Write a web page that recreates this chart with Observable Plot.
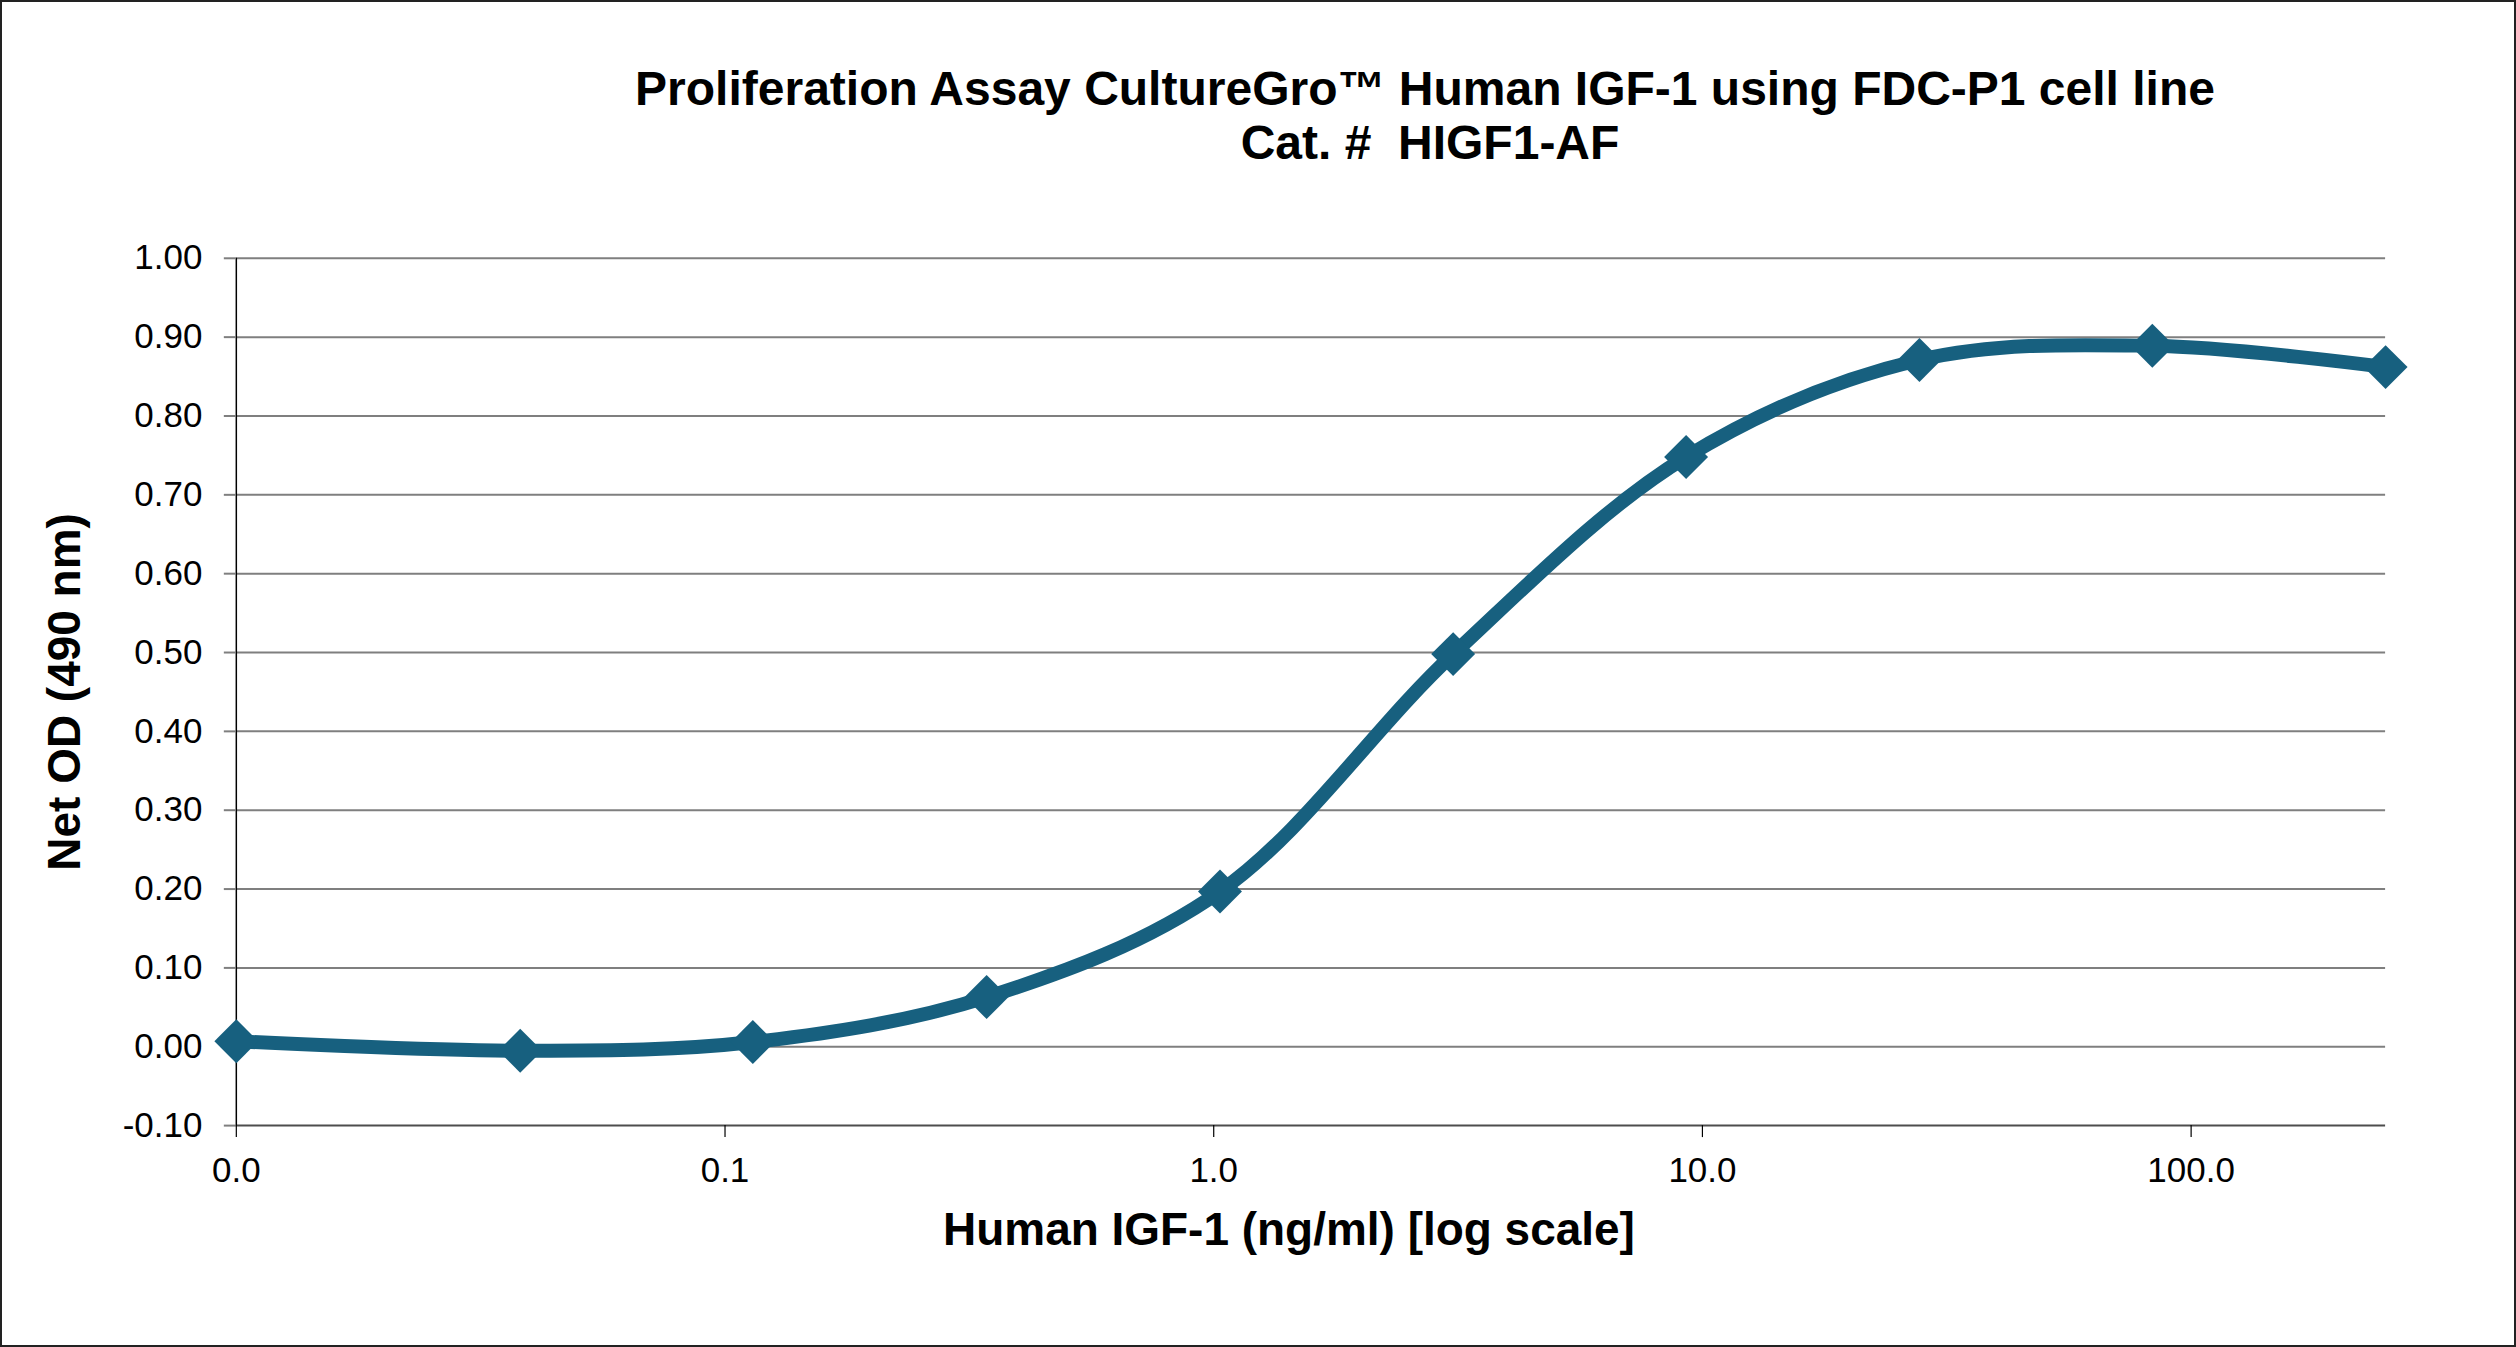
<!DOCTYPE html>
<html>
<head>
<meta charset="utf-8">
<script src="https://cdn.jsdelivr.net/npm/d3@7"></script>
<script src="https://cdn.jsdelivr.net/npm/@observablehq/plot@0.6"></script>
<style>
  html, body { margin: 0; padding: 0; background: #fff; }
  #wrap { position: relative; width: 2516px; height: 1347px; box-sizing: border-box; border: 2px solid #222; overflow: hidden; font-family: "Liberation Sans", Arial, sans-serif; }
  .ttl { position: absolute; white-space: pre; font-weight: bold; font-size: 48px; line-height: 48px; color: #000; transform: translateX(-50%); }
  #chart { position: absolute; left: -2px; top: -2px; }
</style>
</head>
<body>
<div id="wrap">
  <div class="ttl" style="left:1423px; top:63px;">Proliferation Assay CultureGro™ Human IGF-1 using FDC-P1 cell line</div>
  <div class="ttl" style="left:1428px; top:117px;">Cat. #  HIGF1-AF</div>
  <div id="chart"></div>
</div>
<script>
// Data
const concentration = [0.01, 0.0381, 0.114, 0.343, 1.03, 3.09, 9.26, 27.8, 83.3, 250];
const netOD = [0.007, -0.005, 0.006, 0.063, 0.197, 0.498, 0.748, 0.871, 0.889, 0.862];
const xTicks = [0.01, 0.1, 1, 10, 100];
const yTicks = [-0.1, 0, 0.1, 0.2, 0.3, 0.4, 0.5, 0.6, 0.7, 0.8, 0.9, 1.0];
const xTitle = "Human IGF-1 (ng/ml) [log scale]";
const yTitle = "Net OD (490 nm)";

const data = concentration.map((c, i) => ({x: c, y: netOD[i]}));
const lineColor = "#17607f";

const chart = Plot.plot({
  width: 2516,
  height: 1347,
  marginLeft: 236,
  marginRight: 129,
  marginTop: 258,
  marginBottom: 221,
  style: {fontFamily: "Liberation Sans, Arial, sans-serif", fontSize: "35px", color: "#000", background: "transparent"},
  x: {type: "log", domain: [0.01, 250]},
  y: {domain: [-0.1, 1.0]},
  marks: [
    Plot.ruleY(yTicks.filter(d => d > -0.1), {stroke: "#7f7f7f", strokeWidth: 2}),
    Plot.ruleY([-0.1], {stroke: "#4d4d4d", strokeWidth: 2}),
    Plot.ruleX([0.01], {stroke: "#000", strokeWidth: 1.5}),
    Plot.axisY({ticks: yTicks, tickFormat: d => d.toFixed(2), tickSize: 12, tickPadding: 22, stroke: "#7f7f7f", strokeWidth: 2, fontSize: 35, label: null}),
    Plot.axisX({ticks: xTicks, tickFormat: d => d.toFixed(1), tickSize: 12, tickPadding: 20, stroke: "#000", strokeWidth: 1.2, fontSize: 35, label: null}),
    Plot.line(data, {x: "x", y: "y", stroke: lineColor, strokeWidth: 14, curve: "catmull-rom"}),
    Plot.dot(data, {x: "x", y: "y", symbol: "diamond2", r: 19.8, fill: lineColor, stroke: "none"}),
    Plot.text([xTitle], {text: d => d, frameAnchor: "bottom", lineAnchor: "bottom", textAnchor: "middle", dy: 119, dx: -22, fontSize: 46, fontWeight: "bold", fill: "#000"}),
    Plot.text([yTitle], {text: d => d, frameAnchor: "left", lineAnchor: "bottom", textAnchor: "middle", rotate: -90, dx: -156, fontSize: 46, fontWeight: "bold", fill: "#000"})
  ]
});
document.getElementById("chart").appendChild(chart);
</script>
</body>
</html>
